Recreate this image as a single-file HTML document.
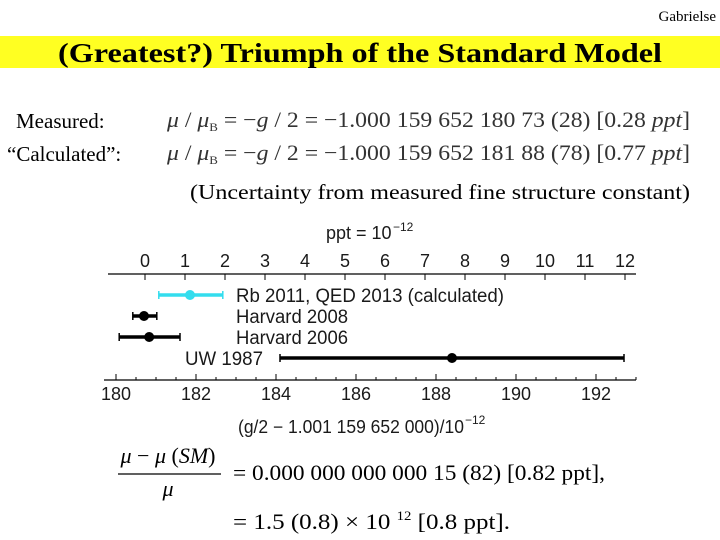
<!DOCTYPE html>
<html><head><meta charset="utf-8"><style>
html,body{margin:0;padding:0;background:#fff;width:720px;height:540px;overflow:hidden}
svg{display:block}
.t{font-family:"Liberation Serif",serif}
.s{font-family:"Liberation Sans",sans-serif;fill:#1a1a1a}
</style></head><body>
<svg width="720" height="540" viewBox="0 0 720 540">
<text class="t" x="716" y="21" text-anchor="end" font-size="15">Gabrielse</text>
<rect x="0" y="36" width="720" height="32" fill="#ffff22"/>
<text class="t" x="58" y="62" font-size="27" font-weight="bold" textLength="604" lengthAdjust="spacingAndGlyphs">(Greatest?) Triumph of the Standard Model</text>
<text class="t" x="16" y="128" font-size="21">Measured:</text>
<text class="t" x="167" y="127" font-size="22" fill="#333" textLength="523" lengthAdjust="spacingAndGlyphs"><tspan font-style="italic">μ</tspan> / <tspan font-style="italic">μ</tspan><tspan font-size="12" dy="4">B</tspan><tspan dy="-4"> = −</tspan><tspan font-style="italic">g</tspan> / 2 = −1.000 159 652 180 73 (28)   [0.28 <tspan font-style="italic">ppt</tspan>]</text>
<text class="t" x="7" y="161" font-size="21">“Calculated”:</text>
<text class="t" x="167" y="160" font-size="22" fill="#333" textLength="523" lengthAdjust="spacingAndGlyphs"><tspan font-style="italic">μ</tspan> / <tspan font-style="italic">μ</tspan><tspan font-size="12" dy="4">B</tspan><tspan dy="-4"> = −</tspan><tspan font-style="italic">g</tspan> / 2 = −1.000 159 652 181 88 (78)   [0.77 <tspan font-style="italic">ppt</tspan>]</text>
<text class="t" x="190" y="199" font-size="21" textLength="500" lengthAdjust="spacingAndGlyphs">(Uncertainty from measured fine structure constant)</text>

<g id="chart"></g>

<text class="t" x="168" y="463" font-size="22" text-anchor="middle"><tspan font-style="italic">μ</tspan> − <tspan font-style="italic">μ</tspan> (<tspan font-style="italic">SM</tspan>)</text>
<line x1="118" y1="474" x2="221" y2="474" stroke="#000" stroke-width="1.3"/>
<text class="t" x="168" y="496" font-size="22" font-style="italic" text-anchor="middle">μ</text>
<text class="t" x="233" y="480" font-size="22" textLength="372" lengthAdjust="spacingAndGlyphs">= 0.000 000 000 000 15 (82) [0.82  ppt],</text>
<text class="t" x="233" y="529" font-size="22" textLength="277" lengthAdjust="spacingAndGlyphs">= 1.5 (0.8) × 10  <tspan font-size="13" dy="-9">12</tspan><tspan dy="9"> [0.8  ppt].</tspan></text>
</svg>
<script>
var labels=["Rb 2011, QED 2013 (calculated)","Harvard 2008","Harvard 2006","UW 1987"];
var centers=[181.85,180.7,180.83,188.4];
var lows=[181.07,180.42,180.08,184.1];
var highs=[182.67,181.02,181.6,192.7];
var colors=["#33ddee","#000","#000","#000"];
var bottomTicks=[180,182,184,186,188,190,192];
var topTicks=[0,1,2,3,4,5,6,7,8,9,10,11,12];
var labelWidths=[268,112,112,78];
var NS="http://www.w3.org/2000/svg",g=document.getElementById("chart");
function xb(v){return 116+(v-180)*40;}
function xt(v){return 145+v*40;}
function rowY(i){return 295+i*21;}
var TOPY=274,BOTY=380;
function mk(tag,a,txt){var e=document.createElementNS(NS,tag);for(var k in a)e.setAttribute(k,a[k]);if(txt!=null)e.textContent=txt;g.appendChild(e);return e;}
var e;
e=mk("text",{x:326,y:239,"font-size":18,"class":"s"},"ppt = 10");


e=mk("text",{x:393,y:231,"font-size":12,"class":"s"},"−12");


e=mk("line",{x1:108,y1:TOPY,x2:636,y2:TOPY,stroke:"#000","stroke-width":1.3});


topTicks.forEach(function(t){
 var x=xt(t);
 e=mk("line",{x1:x,y1:TOPY,x2:x,y2:TOPY+6,stroke:"#000","stroke-width":1});
 
 
 e=mk("text",{x:x,y:267,"font-size":18,"text-anchor":"middle","class":"s"},String(t));
 
 
});
e=mk("line",{x1:104,y1:BOTY,x2:636,y2:BOTY,stroke:"#000","stroke-width":1.3});


for(var m=180;m<=193;m+=0.5){
 var major=bottomTicks.indexOf(m)>=0, x=xb(m);
 e=mk("line",{x1:x,y1:BOTY,x2:x,y2:major?BOTY-6:BOTY-3,stroke:"#000","stroke-width":1});
 
 
}
bottomTicks.forEach(function(t){
 e=mk("text",{x:xb(t),y:400,"font-size":18,"text-anchor":"middle","class":"s"},String(t));
 
 
});
e=mk("text",{x:238,y:433,"font-size":18,"class":"s",textLength:226,lengthAdjust:"spacingAndGlyphs"},"(g/2 − 1.001 159 652 000)/10");


e=mk("text",{x:465,y:424,"font-size":12,"class":"s"},"−12");


labels.forEach(function(l,i){
 var y=rowY(i);
 e=mk("line",{x1:xb(lows[i]),y1:y,x2:xb(highs[i]),y2:y,stroke:colors[i],"stroke-width":3.5});
 
 
 [lows[i],highs[i]].forEach(function(v){
  e=mk("line",{x1:xb(v),y1:y-4,x2:xb(v),y2:y+4,stroke:colors[i],"stroke-width":1.5});
  
  
 });
 e=mk("circle",{cx:xb(centers[i]),cy:y,r:5,fill:colors[i]});
 
 
 e=mk("text",{x:i==3?185:236,y:y+7,"font-size":19,"class":"s",textLength:labelWidths[i],lengthAdjust:"spacingAndGlyphs"},l);
 
 
});
</script>
</body></html>
